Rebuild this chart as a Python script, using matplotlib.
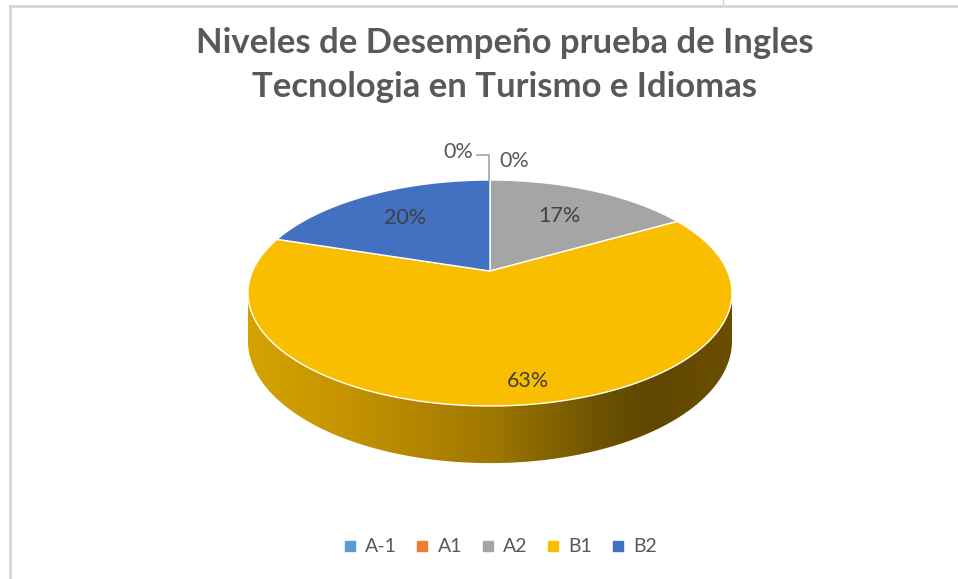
import numpy as np
import matplotlib.pyplot as plt
from matplotlib.patches import Polygon, Arc
from matplotlib.lines import Line2D
from matplotlib.colors import LinearSegmentedColormap

# data
levels = ["A-1", "A1", "A2", "B1", "B2"]
counts = [0, 0, 5, 19, 6]
colors = ["#5B9BD5", "#ED7D31", "#A5A5A5", "#FABE00", "#4371C2"]
title1 = "Niveles de Desempeño prueba de Ingles"
title2 = "Tecnologia en Turismo e Idiomas"

# pie geometry (pixels), simple perspective model
CX, CY = 490.0, 271.0
A, B, K = 237.4, 108.7, 0.1947
H = 46.0
TXT = "#404040"
GRAY = "#595959"

def proj(theta, r=1.0, drop=0.0):
    t = np.radians(theta)
    u = r * np.sin(t)
    v = r * np.cos(t)
    w = 1 + K * v
    return CX + A * u / w, CY - B * v / w + drop / w

fig = plt.figure(figsize=(9.58, 5.79), dpi=100)
ax = fig.add_axes([0, 0, 1, 1])
ax.set_axis_off()

total = sum(counts)
fracs = np.array(counts) / total
ends = np.cumsum(fracs) * 360
starts = ends - fracs * 360

# side face (front part only)
vis0 = np.degrees(np.arccos(-K))
vis1 = 360 - vis0
side_cmap = LinearSegmentedColormap.from_list("side", [
    (0.0, "#D4A200"), (0.17, "#C89600"), (0.5, "#A07800"),
    (0.73, "#6C5200"), (0.83, "#604600"), (1.0, "#6A4F00")])
xl, _ = proj(vis1)
xr, _ = proj(vis0)
for s, e, c, n in zip(starts, ends, colors, counts):
    if n == 0:
        continue
    a0, a1 = max(s, vis0), min(e, vis1)
    if a1 <= a0:
        continue
    th = np.linspace(a0, a1, 200)
    top = [proj(t) for t in th]
    bot = [proj(t, drop=H) for t in th[::-1]]
    poly = Polygon(top + bot, closed=True, facecolor="none", edgecolor="none")
    ax.add_patch(poly)
    grad = side_cmap(np.linspace(0, 1, 600))[None, :, :3]
    im = ax.imshow(grad, extent=[xl, xr, 480, 280], aspect="auto",
                   interpolation="bilinear", zorder=1)
    im.set_clip_path(poly)

# top face
for s, e, c, n in zip(starts, ends, colors, counts):
    if n == 0:
        continue
    th = np.linspace(s, e, 200)
    pts = [(CX, CY)] + [proj(t) for t in th]
    ax.add_patch(Polygon(pts, closed=True, facecolor=c, edgecolor="white",
                         linewidth=1.0, zorder=2))

# data labels
label_r = [1.0, 1.0, 0.65, 0.85, 0.67]
nudge = {"B1": (13, 0)}
for lev, s, e, n, r in zip(levels, starts, ends, counts, label_r):
    pct = f"{round(100 * n / total)}%"
    if n == 0:
        continue
    x, y = proj((s + e) / 2, r)
    dx, dy = nudge.get(lev, (0, 0))
    ax.text(x + dx, y + dy, pct, ha="center", va="center", fontsize=15.5,
            family="Lato", color=TXT, zorder=5)

# zero slices sit at 12 o'clock
zx, zy = proj(0)
ax.plot([zx - 1, zx - 1, zx - 13], [zy, zy - 25, zy - 25], color="#A6A6A6",
        lw=1.2, zorder=4)
ax.text(zx - 32, zy - 28, "0%", ha="center", va="center", fontsize=15.5,
        family="Lato", color=GRAY, zorder=5)
ax.text(zx + 24, zy - 19, "0%", ha="center", va="center", fontsize=15.5,
        family="Lato", color=GRAY, zorder=5)

# chart frame / sheet bits
ax.plot([10, 958], [6, 6], color="#D6D6D6", lw=2, zorder=0)
ax.plot([10, 10], [6, 579], color="#D6D6D6", lw=2, zorder=0)
ax.plot([723, 723], [0, 5], color="#D6D6D6", lw=1, zorder=0)
ax.add_patch(Arc((14, -40), 60, 84, theta1=230, theta2=310,
                 color="#1E8A4A", lw=2))

ax.set_xlim(0, 958)
ax.set_ylim(579, 0)

# title, fitted to width
r_ = fig.canvas.get_renderer()
t1 = fig.text(505 / 958, 1 - 53 / 579, title1, ha="center", va="baseline",
              fontsize=20, family="Lato", weight="bold", color=GRAY)
w = t1.get_window_extent(r_).width
fs = 20 * 616 / w
t1.set_fontsize(fs)
fig.text(505 / 958, 1 - 97 / 579, title2, ha="center", va="baseline",
         fontsize=fs, family="Lato", weight="bold", color=GRAY)

handles = [Line2D([], [], marker="s", ls="", markersize=6.5, color=c)
           for c in colors]
fig.legend(handles, levels, loc="center", bbox_to_anchor=(500 / 958, 1 - 547 / 579),
           ncol=5, frameon=False, prop={"family": "Lato", "size": 14},
           labelcolor=GRAY, handlelength=0.7, handletextpad=0.45,
           columnspacing=0.95)

fig.savefig("out.png", dpi=100)
